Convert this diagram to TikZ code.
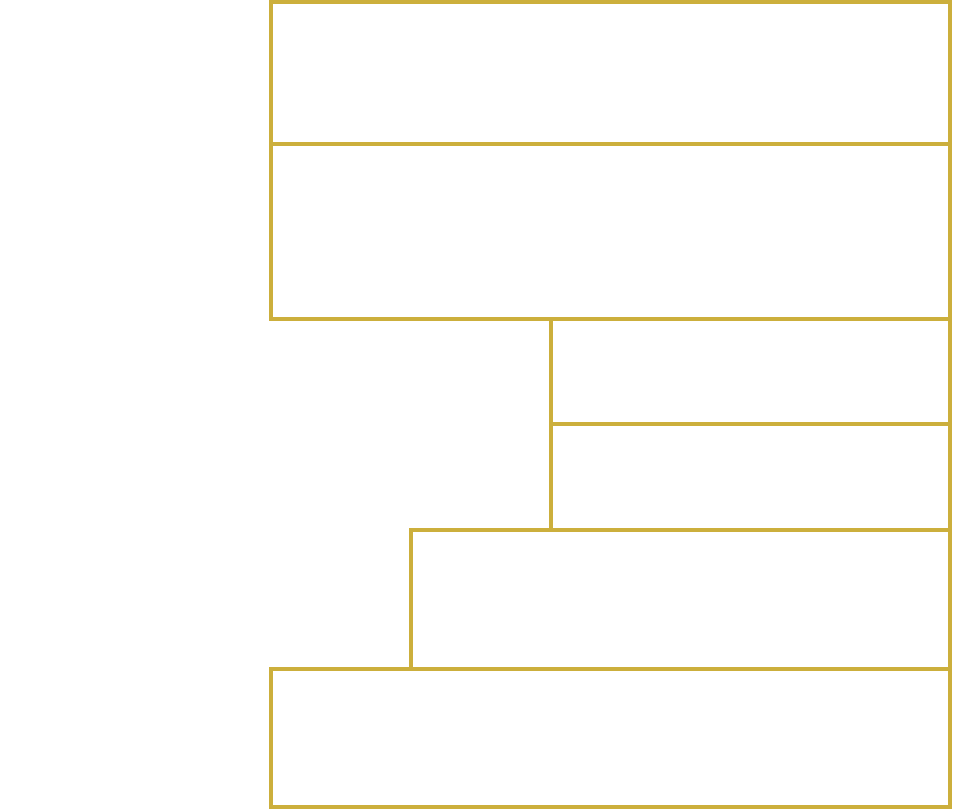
\documentclass[tikz,border=0pt]{standalone}
\definecolor{gold}{RGB}{204,175,60}
\begin{document}
\begin{tikzpicture}[
    layer/.style={draw=gold, line width=2.6pt, rectangle, inner sep=0pt, outer sep=0pt, minimum width=#1},
    wide/.style={layer=16.975cm},
    mid/.style={layer=13.475cm},
    narrow/.style={layer=9.975cm}
]
    \useasboundingbox (0,0) rectangle (23.825,-20.25);

    % Full-width layers
    \node[wide, minimum height=3.55cm] (top) at (15.2625,-1.825) {};
    \node[wide, minimum height=4.375cm] (upper) at (15.2625,-5.7875) {};

    % Narrow layers
    \node[narrow, minimum height=2.625cm] (nthree) at (18.7625,-9.2875) {};
    \node[narrow, minimum height=2.65cm] (nfour) at (18.7625,-11.925) {};

    % Middle layer
    \node[mid, minimum height=3.475cm] (middle) at (17.0125,-14.9875) {};

    % Base layer
    \node[wide, minimum height=3.45cm] (base) at (15.2625,-18.45) {};
\end{tikzpicture}
\end{document}
